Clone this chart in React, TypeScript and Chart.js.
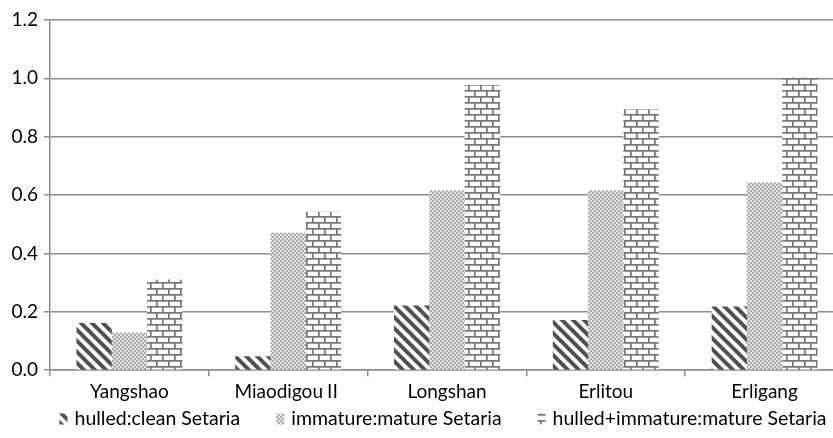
import React, { useEffect, useRef } from "react";
import { Chart, registerables } from "chart.js";

Chart.register(...registerables);

const categories = ["Yangshao", "Miaodigou\u2161", "Longshan", "Erlitou", "Erligang"];
const seriesLabels = [
  "hulled:clean Setaria",
  "immature:mature Setaria",
  "hulled+immature:mature Setaria",
];
const hulledClean = [0.162, 0.048, 0.222, 0.172, 0.218];
const immatureMature = [0.128, 0.471, 0.617, 0.617, 0.643];
const hulledImmatureMature = [0.311, 0.543, 0.977, 0.894, 1.003];
const yTicks = [0, 0.2, 0.4, 0.6, 0.8, 1.0, 1.2];

const FONT_FAMILY = "Lato, 'Noto Sans CJK SC'";

function makeTile(w: number, h: number, draw: (c: CanvasRenderingContext2D) => void) {
  const cv = document.createElement("canvas");
  cv.width = w;
  cv.height = h;
  const c = cv.getContext("2d")!;
  draw(c);
  return c.createPattern(cv, "repeat")!;
}

function hatchPattern() {
  return makeTile(11, 11, (c) => {
    c.fillStyle = "#ffffff";
    c.fillRect(0, 0, 11, 11);
    c.strokeStyle = "#505050";
    c.lineWidth = 4;
    c.beginPath();
    c.moveTo(-5.5, -5.5);
    c.lineTo(16.5, 16.5);
    c.moveTo(-5.5, 5.5);
    c.lineTo(5.5, 16.5);
    c.moveTo(5.5, -5.5);
    c.lineTo(16.5, 5.5);
    c.stroke();
  });
}

function dotPattern() {
  return makeTile(4, 4, (c) => {
    c.fillStyle = "#e4e4e4";
    c.fillRect(0, 0, 4, 4);
    c.fillStyle = "#aaaaaa";
    c.fillRect(0, 0, 2, 2);
    c.fillRect(2, 2, 2, 2);
  });
}

function brickPattern() {
  return makeTile(12, 12, (c) => {
    c.fillStyle = "#ffffff";
    c.fillRect(0, 0, 12, 12);
    c.fillStyle = "#767676";
    c.fillRect(0, 0, 12, 1.7);
    c.fillRect(0, 6, 12, 1.7);
    c.fillRect(0, 0, 1.7, 6);
    c.fillRect(6, 6, 1.7, 6);
  });
}

// Legend drawn from the chart's own datasets (labels + fill patterns)
const bottomLegend = {
  id: "bottomLegend",
  afterDraw(chart: any) {
    const ctx: CanvasRenderingContext2D = chart.ctx;
    const items = chart.data.datasets.map((ds: any) => ({ text: ds.label, fill: ds.backgroundColor }));
    const boxW = 8;
    const boxH = 11;
    const gapText = 7;
    const gapItem = 36;
    const centerX = 443;
    const centerY = 419;
    ctx.save();
    ctx.font = `19.5px ${FONT_FAMILY}`;
    ctx.textBaseline = "middle";
    ctx.textAlign = "left";
    const widths = items.map((it: any) => boxW + gapText + ctx.measureText(it.text).width);
    const total = widths.reduce((a: number, b: number) => a + b, 0) + gapItem * (items.length - 1);
    let x = centerX - total / 2;
    items.forEach((it: any, i: number) => {
      ctx.fillStyle = it.fill;
      ctx.fillRect(x, centerY - boxH / 2, boxW, boxH);
      ctx.fillStyle = "#000000";
      ctx.fillText(it.text, x + boxW + gapText, centerY);
      x += widths[i] + gapItem;
    });
    ctx.restore();
  },
};

export default function App() {
  const ref = useRef<HTMLCanvasElement | null>(null);

  useEffect(() => {
    if (!ref.current) return;
    const chart = new Chart(ref.current, {
      type: "bar",
      data: {
        labels: categories,
        datasets: [
          { label: seriesLabels[0], data: hulledClean, backgroundColor: hatchPattern() as any, borderWidth: 0 },
          { label: seriesLabels[1], data: immatureMature, backgroundColor: dotPattern() as any, borderWidth: 0 },
          { label: seriesLabels[2], data: hulledImmatureMature, backgroundColor: brickPattern() as any, borderWidth: 0 },
        ],
      },
      plugins: [bottomLegend],
      options: {
        animation: false,
        responsive: false,
        devicePixelRatio: 1,
        layout: { padding: { top: 20, right: 6, left: 0, bottom: 31 } },
        datasets: { bar: { categoryPercentage: 0.667, barPercentage: 1.0 } },
        plugins: {
          tooltip: { enabled: false },
          legend: { display: false },
        },
        scales: {
          x: {
            grid: {
              display: true,
              drawOnChartArea: false,
              drawTicks: true,
              tickLength: 6,
              color: "#8c8c8c",
              lineWidth: 1.5,
              offset: true,
            },
            border: { display: true, color: "#8c8c8c", width: 1.5 },
            ticks: { color: "#000000", font: { family: FONT_FAMILY, size: 19 }, padding: 4, maxRotation: 0 },
          },
          y: {
            min: 0,
            max: 1.2,
            afterFit: (axis: any) => {
              axis.width = 50;
            },
            afterBuildTicks: (axis: any) => {
              axis.ticks = yTicks.map((v) => ({ value: v }));
            },
            grid: { color: "#8c8c8c", lineWidth: 1.5, tickLength: 6 },
            border: { display: true, color: "#8c8c8c", width: 1.5 },
            ticks: {
              color: "#000000",
              font: { family: FONT_FAMILY, size: 19 },
              padding: 6,
              callback: (v: any) => Number(v).toFixed(1),
            },
          },
        },
      },
    });
    return () => chart.destroy();
  }, []);

  return (
    <div
      style={{
        position: "fixed",
        left: 0,
        top: 0,
        width: 833,
        height: 438,
        overflow: "hidden",
        background: "#ffffff",
      }}
    >
      <canvas ref={ref} width={850} height={438} style={{ width: 850, height: 438, display: "block" }} />
    </div>
  );
}
